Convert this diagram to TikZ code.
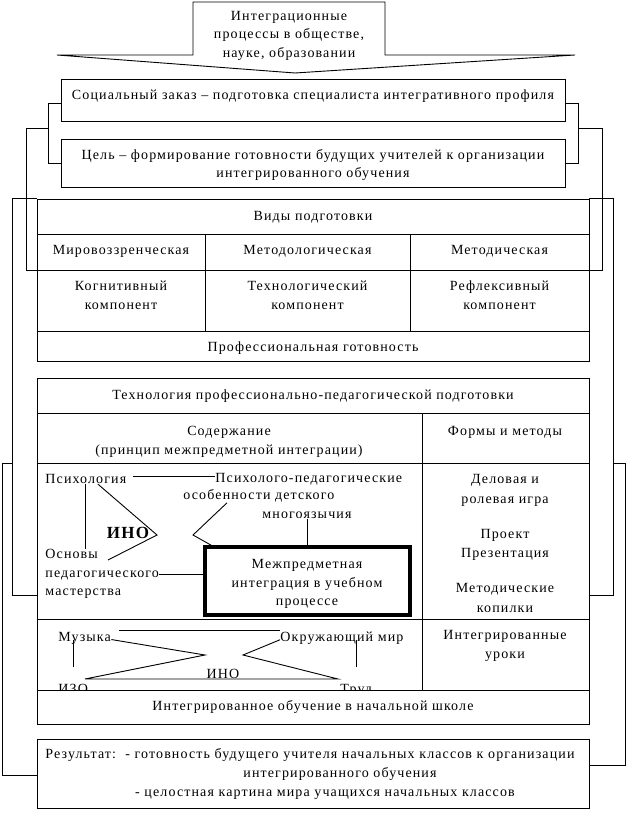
\documentclass[tikz,border=0pt]{standalone}
\usepackage{fontspec}
\setmainfont[LetterSpace=8]{Liberation Serif}
\usetikzlibrary{positioning,fit}

\begin{document}
\begin{tikzpicture}[x=1pt, y=-1pt, line width=0.9pt,
    every node/.style={inner sep=0pt, font=\fontsize{14}{18.5}\selectfont},
    cell/.style={draw},
    lbl/.style={align=center, anchor=base},
    thickbox/.style={draw, line width=3.5pt}]
  \useasboundingbox (0,0) rectangle (626,813);

  % draw top arrow
  \draw (57,55) -- (193,55) -- (193,2) -- (385,2) -- (385,55) -- (575,55) -- (295,73) -- cycle;
  \node[lbl] (ip) at (289,57.5) {Интеграционные\\процессы в обществе,\\науке, образовании};

  % draw aim boxes
  \node[cell, fit={(61,79) (565,121)}] (soc) {};
  \node[lbl] (soct) at (313,99.5) {Социальный заказ -- подготовка специалиста интегративного профиля};
  \node[cell, fit={(61,139) (565,187)}] (goal) {};
  \node[lbl] (goalt) at (313,178) {Цель -- формирование готовности будущих учителей к организации\\интегрированного обучения};

  % draw kinds of training
  \node[cell, fit={(37,199) (589,234)}] (vid) {};
  \node[lbl] (vidt) at (313,220.5) {Виды подготовки};
  \foreach \n/\xa/\xb/\t in {mir/37/205/Мировоззренческая, metl/205/410/Методологическая, metd/410/589/Методическая}
  {
    \node[cell, fit={(\xa,234) (\xb,270)}] (\n) {};
    \node[lbl] (\n t) at ({(\xa+\xb)/2},254.5) {\t};
  }
  \foreach \n/\xa/\xb/\t in {kog/37/205/Когнитивный, tek/205/410/Технологический, refl/410/589/Рефлексивный}
  {
    \node[cell, fit={(\xa,270) (\xb,331)}] (\n) {};
    \node[lbl] (\n t) at ({(\xa+\xb)/2},309) {\t\\компонент};
  }
  \node[cell, fit={(37,331) (589,361)}] (prof) {};
  \node[lbl] (proft) at (313,351.5) {Профессиональная готовность};

  % draw technology table
  \node[cell, fit={(37,378) (589,413)}] (tpp) {};
  \node[lbl] (tppt) at (313,399.5) {Технология профессионально-педагогической подготовки};
  \node[cell, fit={(37,413) (422,463)}] (sod) {};
  \node[lbl] (sodt) at (229,454) {Содержание\\(принцип межпредметной интеграции)};
  \node[cell, fit={(422,413) (589,463)}] (fim) {};
  \node[lbl] (fimt) at (505,435.5) {Формы и методы};
  \node[cell, fit={(37,463) (422,619)}] (cont) {};
  \node[cell, fit={(422,463) (589,619)}] (form) {};
  \node[lbl, font=\fontsize{14}{19.5}\selectfont] (formt) at (505,612) {Деловая и\\ролевая игра\\[15.5pt]Проект\\Презентация\\[15.5pt]Методические\\копилки};
  \node[cell, fit={(37,619) (422,690)}] (muzr) {};
  \node[cell, fit={(422,619) (589,690)}] (iur) {};
  \node[lbl] (iurt) at (505,658) {Интегрированные\\уроки};

  % draw content
  \node[anchor=west] (psy) at (45,479) {Психология};
  \node[anchor=west] (ppa) at (215,479) {Психолого-педагогические};
  \node[anchor=west] (ppb) at (183,496) {особенности детского};
  \node[anchor=west] (ppc) at (262,515) {многоязычия};
  \node[anchor=west, align=left] (osn) at (45,574) {Основы\\педагогического\\мастерства};
  \node (ino) at (128,533) {\bfseries\fontsize{17}{20}\selectfont ИНО};
  \node[thickbox, fit={(205,547) (410,615)}] (mpi) {};
  \node[lbl] (mpit) at (307,605.5) {Межпредметная\\интеграция в учебном\\процессе};
  \coordinate (inoL) at (157,535);
  \coordinate (inoR) at (193,535);
  \draw ([xshift=6pt,yshift=3pt]psy.east) -- ([yshift=3pt]ppa.west);
  \draw (psy.south) -- (psy.south |- osn.north);
  \draw ([xshift=12pt]psy.south) -- (inoL) -- (108,560);
  \draw ([xshift=44pt]ppb.south west) -- (inoR) -- ([xshift=8pt]mpi.north west);
  \draw (ppc.south) -- (ppc.south |- mpi.north);
  \draw (osn.east) -- (osn.east -| mpi.west);

  % draw subjects
  \node[anchor=west] (muz) at (58,638) {Музыка};
  \node[anchor=west] (okr) at (280,638) {Окружающий мир};
  \node[anchor=base west] (izo) at (58,693) {ИЗО};
  \node[anchor=base west] (trud) at (340,693) {Труд};
  \node (ino2) at (223,674) {ИНО};
  \coordinate (xl) at (205,655);
  \coordinate (xr) at (243,655);
  \coordinate (izot) at (85,679);
  \coordinate (trt) at (338,679);
  \draw ([xshift=8pt,yshift=8pt]muz.east) -- ([yshift=8pt]okr.west);
  \draw ([yshift=5pt]izo.north |- muz.south) -- ([yshift=16pt]izo.north);
  \draw ([yshift=5pt]trud.north |- okr.south) -- ([yshift=16pt]trud.north);
  \draw ([yshift=5pt]muz.south east) -- (xl) -- (izot) -- (trt) -- (xr) -- ([yshift=5pt]okr.south west);
  \node[cell, fill=white, fit={(37,690) (589,724)}] (ion) {};
  \node[lbl] (iont) at (313,710.5) {Интегрированное обучение в начальной школе};

  % draw result
  \node[cell, fit={(37,739) (589,808)}] (res) {};
  \node[anchor=base west] (res1) at (45,758.5) {Результат:\ \ - готовность будущего учителя начальных классов к организации};
  \node[lbl] (res2) at (340,777.5) {интегрированного обучения};
  \node[lbl] (res3) at (325,796.5) {- целостная картина мира учащихся начальных классов};

  % draw brackets
  \draw ([yshift=-3pt]soc.west) -- ++(-12,0) |- (goal.west);
  \draw ([yshift=-3pt]soc.east) -- ++(13,0) |- (goal.east);
  \coordinate (b2l) at (49,128);
  \coordinate (b2r) at (578,128);
  \draw (b2l) -- ++(-23,0) |- (mir.south west);
  \draw (b2r) -- ++(24,0) |- (metd.south east);
  \draw (vid.north west) -- ++(-24,0) |- ([yshift=-54pt]cont.west);
  \draw (vid.north east) -- ++(24,0) |- ([yshift=-54pt]form.east);
  \coordinate (b4l) at (13,463);
  \coordinate (b4r) at (613,463);
  \draw (b4l) -- ++(-11,0) |- ([yshift=-1.5pt]res.west);
  \draw (b4r) -- ++(12,0) |- ([yshift=8.5pt]res.east);
\end{tikzpicture}
\end{document}
